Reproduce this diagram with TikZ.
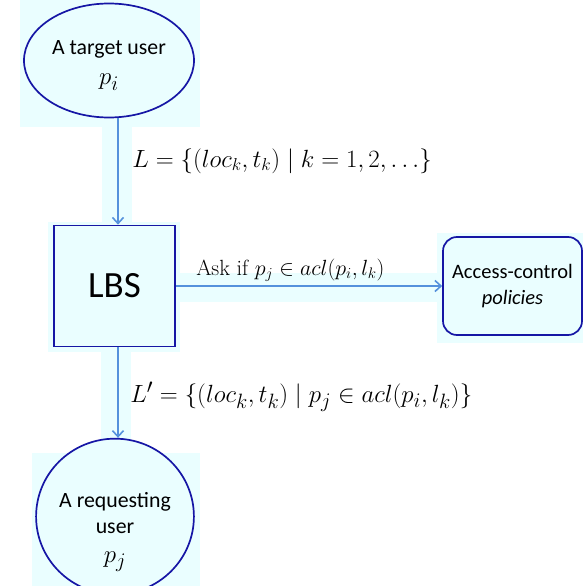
\documentclass[tikz,border=0pt]{standalone}
\usepackage{amsmath, amssymb}
\usepackage{fontspec}
\newfontfamily\calibri{Carlito}
\usetikzlibrary{shapes.geometric, arrows.meta, positioning}

\definecolor{boxblue}{RGB}{22,22,165}
\definecolor{flowblue}{RGB}{85,145,220}
\definecolor{paleback}{RGB}{234,254,255}

\newcommand{\bigmath}[1]{{\fontsize{24.88}{30}\selectfont$#1$}}

\tikzset{
	user/.style={ellipse, draw=boxblue, line width=1.7pt, fill=paleback, align=center, inner sep=0pt, font=\calibri\fontsize{21.8}{28}\selectfont},
	server/.style={rectangle, draw=boxblue, line width=1.7pt, fill=paleback, font=\calibri\fontsize{37}{40}\selectfont},
	policy/.style={rectangle, rounded corners=14pt, draw=boxblue, line width=1.7pt, fill=paleback, align=center, font=\calibri\fontsize{20.5}{26}\selectfont},
	flow/.style={draw=flowblue, line width=1.9pt, -{Straight Barb[length=6pt, width=11pt, line width=1.6pt]}},
	formula/.style={font=\fontsize{#1}{30}\selectfont}
}

\begin{document}
\begin{tikzpicture}[x=1pt, y=-1pt]
		\useasboundingbox (0,0) rectangle (583,586);
		
		%axis of the vertical arrows
		\coordinate (axis) at (118,0);
		
		%pale backgrounds
		\fill [paleback] (20,0) rectangle (200,127);
		\fill [paleback] (102,127) rectangle (132,222);
		\fill [paleback] (48,222) rectangle (180,352);
		\fill [paleback] (180,273) rectangle (437,302);
		\fill [paleback] (437,233) rectangle (583,343);
		\fill [paleback] (101,352) rectangle (131,453);
		\fill [paleback] (32,453) rectangle (200,586);
		
		%users
		\node [user, minimum width=170pt, minimum height=114pt] (target) at (109,60.5) {\rule{0pt}{24pt}A target user\\[2pt] \bigmath{p_i}};
		\node [user, minimum width=156pt, minimum height=122pt] (requester) at (115,516.5) {\rule{0pt}{46pt}A requesting\\[-2pt] user\\[1pt] \bigmath{p_j}};
		
		%service and policies
		\node [server, minimum width=121pt, minimum height=121pt] (lbs) at (114.5,286) {LBS};
		\node [policy, minimum width=139pt, minimum height=98pt] (acp) at (512.5,286) {Access-control\\ \itshape policies};
		
		%requests
		\draw [flow] (axis |- target.south) -- (axis |- lbs.north)
			node [formula=26.5, pos=0.4, right=10pt] (trace) {$L = \{(loc_k, t_k) \mid k = 1, 2, \ldots\}$};
		\draw [flow] (lbs.east) -- (acp.west)
			node [formula=20.74, scale=1.06, transform shape, pos=0.43, above=0pt] (ask) {Ask if $p_j \in acl(p_i, l_k)$};
		\draw [flow] (axis |- lbs.south) -- (axis |- requester.north)
			node [formula=27.8, pos=0.55, right=8pt] (reply) {$L' = \{(loc_k, t_k) \mid p_j \in acl(p_i, l_k)\}$};
	\end{tikzpicture}
\end{document}
